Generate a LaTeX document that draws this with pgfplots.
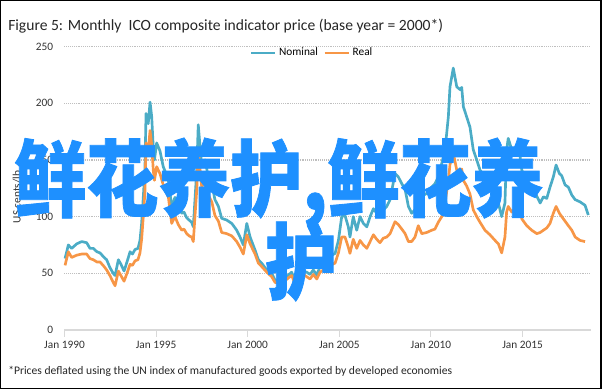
\documentclass[border=0pt]{standalone}
\usepackage{pgfplots}
\pgfplotsset{compat=1.18}
\usepackage{graphicx}
\usepackage{fontspec}
\setmainfont{Carlito}
\newfontfamily\cjk[FakeBold=1]{Noto Sans CJK SC}
\definecolor{nomc}{HTML}{4BACC6}
\definecolor{realc}{HTML}{F79646}
\definecolor{wm}{HTML}{1E90FF}
\definecolor{gridc}{HTML}{BFBFBF}
\definecolor{axc}{HTML}{D9D9D9}
\begin{document}
\begin{tikzpicture}[x=0.75pt,y=0.75pt]
\path[use as bounding box] (0,0) rectangle (604,390);
\begin{axis}[
  at={(48.375pt,45pt)}, anchor=south west,
  scale only axis, width=394.65pt, height=212.6pt,
  xmin=1990, xmax=2018.72, ymin=0, ymax=250,
  axis lines*=left,
  x axis line style={draw=axc, line width=0.8pt},
  y axis line style={draw=none},
  xtick={1990,1995,2000,2005,2010,2015},
  xticklabels={Jan 1990,Jan 1995,Jan 2000,Jan 2005,Jan 2010,Jan 2015},
  ytick={0,50,100,150,200,250},
  tick align=outside,
  major tick length=5pt,
  xtick style={draw=axc, line width=0.8pt},
  ytick style={draw=none},
  ymajorgrids,
  grid style={densely dotted, draw=gridc, line width=0.9pt},
  tick label style={font=\fontsize{8.5}{10}\selectfont, text=black!80},
  xticklabel style={anchor=base, yshift=-9pt},
  yticklabel style={anchor=east},
  /pgf/number format/assume math mode=true,
  legend style={draw=none, fill=none, at={(0.471,0.977)}, anchor=center,
    legend columns=2, font=\fontsize{8.5}{10}\selectfont,
    /tikz/every even column/.append style={column sep=2pt}},
  legend image code/.code={\draw[#1] (0pt,0pt) -- (18pt,0pt);},
  clip=false,
]
\addplot[nomc, line width=2pt, line join=round] coordinates {
(1990.03,63) (1990.21,75) (1990.39,72) (1990.67,76) (1990.94,78) (1991.21,77)
(1991.39,72) (1991.57,72) (1991.77,69) (1991.94,68) (1992.16,64) (1992.30,62)
(1992.48,55) (1992.66,50) (1992.76,48) (1992.94,62) (1993.08,58) (1993.25,52)
(1993.41,60) (1993.58,69) (1993.71,67) (1993.85,71) (1994.01,72) (1994.12,79)
(1994.21,94) (1994.30,117) (1994.39,141) (1994.45,191) (1994.57,182) (1994.67,201)
(1994.76,188) (1994.85,159) (1994.91,150) (1995.03,165) (1995.21,158) (1995.39,144)
(1995.54,138) (1995.67,132) (1995.85,109) (1996.03,117) (1996.21,110) (1996.40,103)
(1996.52,104) (1996.67,99) (1996.80,97) (1996.94,95) (1997.03,91) (1997.22,141)
(1997.30,181) (1997.49,144) (1997.67,150) (1997.85,135) (1998.04,129) (1998.21,115)
(1998.40,109) (1998.58,98.5) (1998.85,97) (1999.13,94) (1999.40,88) (1999.58,82)
(1999.76,75) (1999.95,94) (2000.13,82) (2000.40,70.5) (2000.58,62) (2000.76,59)
(2001.04,53) (2001.31,50) (2001.49,44) (2001.76,42.6) (2001.94,44) (2002.22,48.5)
(2002.40,51) (2002.58,43) (2002.86,53) (2003.04,52) (2003.22,51) (2003.40,49)
(2003.58,53) (2003.77,48.5) (2003.95,56) (2004.13,59) (2004.31,57) (2004.49,65)
(2004.77,67.6) (2004.95,79) (2005.13,100) (2005.31,101) (2005.49,91) (2005.58,82)
(2005.76,100) (2005.95,88) (2006.13,100) (2006.31,94) (2006.50,91) (2006.68,100)
(2006.86,107) (2007.04,103) (2007.22,100) (2007.40,106) (2007.59,109) (2007.77,115)
(2008.04,138) (2008.22,135) (2008.41,129) (2008.59,124) (2008.77,109) (2008.95,103)
(2009.13,106) (2009.31,115) (2009.50,118) (2009.77,120.5) (2010.04,126) (2010.22,129)
(2010.40,135) (2010.59,147) (2010.77,159) (2010.95,188) (2011.04,214.5) (2011.22,231)
(2011.41,214.5) (2011.59,212) (2011.68,214) (2011.77,197) (2011.95,188) (2012.13,179)
(2012.31,159) (2012.50,150) (2012.68,141) (2012.95,135) (2013.22,129) (2013.50,120.5)
(2013.68,112) (2013.86,100) (2014.04,112) (2014.13,159) (2014.22,169) (2014.41,159)
(2014.59,156) (2014.77,165) (2014.96,141) (2015.23,132) (2015.50,126) (2015.78,118)
(2015.96,112) (2016.14,117.5) (2016.32,116) (2016.50,126) (2016.68,135) (2016.83,145.5)
(2017.01,138) (2017.14,136) (2017.32,128) (2017.50,126) (2017.69,119) (2017.87,115)
(2018.14,113) (2018.41,110) (2018.59,101.4)
};
\addlegendentry{Nominal}
\addplot[realc, line width=2pt, line join=round] coordinates {
(1990.03,57) (1990.21,69) (1990.39,64) (1990.67,66) (1990.94,67) (1991.21,67)
(1991.39,63) (1991.57,62) (1991.77,60) (1991.94,60) (1992.16,56) (1992.30,53)
(1992.48,48) (1992.66,42) (1992.76,39) (1992.94,52) (1993.08,48) (1993.25,43)
(1993.41,50) (1993.58,58) (1993.71,57) (1993.85,61) (1994.01,62) (1994.12,68)
(1994.21,80) (1994.30,100) (1994.39,122) (1994.45,165) (1994.57,158) (1994.67,176)
(1994.76,163) (1994.85,140) (1994.91,132) (1995.03,144) (1995.21,138) (1995.39,128)
(1995.54,122) (1995.67,117) (1995.85,94) (1996.03,100) (1996.21,93) (1996.40,88)
(1996.52,89) (1996.67,85) (1996.80,83) (1996.94,82) (1997.03,78) (1997.22,124)
(1997.30,159) (1997.49,126) (1997.67,132) (1997.85,119) (1998.04,113) (1998.21,101)
(1998.40,96) (1998.58,86) (1998.85,85) (1999.13,83) (1999.40,78) (1999.58,73)
(1999.76,67) (1999.95,84) (2000.13,76) (2000.40,67) (2000.58,59) (2000.76,56)
(2001.04,51) (2001.31,47) (2001.49,42) (2001.76,41) (2001.94,42) (2002.22,46)
(2002.40,48) (2002.58,41) (2002.86,50) (2003.04,49) (2003.22,47) (2003.40,45)
(2003.58,49) (2003.77,45) (2003.95,51) (2004.13,53) (2004.31,51) (2004.49,57)
(2004.77,59) (2004.95,68) (2005.13,82) (2005.31,82) (2005.49,73) (2005.58,67.6)
(2005.76,80) (2005.95,72) (2006.13,79) (2006.31,75) (2006.50,72) (2006.68,78)
(2006.86,84) (2007.04,80) (2007.22,77) (2007.40,81) (2007.59,82) (2007.77,85)
(2008.04,95.5) (2008.22,93) (2008.41,89) (2008.59,85) (2008.77,78) (2008.95,78)
(2009.13,82) (2009.31,92) (2009.50,85) (2009.77,86) (2010.04,88) (2010.22,89)
(2010.40,95) (2010.59,100) (2010.77,112) (2010.95,132) (2011.04,146) (2011.22,156)
(2011.41,141) (2011.59,141) (2011.68,142) (2011.77,132) (2011.95,127) (2012.13,120)
(2012.31,106) (2012.50,100) (2012.68,95) (2012.95,88) (2013.22,84) (2013.50,79)
(2013.68,76) (2013.86,68) (2014.04,82) (2014.13,104) (2014.22,109) (2014.41,104)
(2014.59,107) (2014.77,112) (2014.96,98) (2015.23,92) (2015.50,88) (2015.78,85)
(2015.96,86) (2016.14,88) (2016.32,90) (2016.50,94) (2016.68,103) (2016.83,109)
(2017.01,103) (2017.14,100) (2017.32,96) (2017.50,92) (2017.69,88) (2017.87,82)
(2018.14,79) (2018.41,78)
};
\addlegendentry{Real}
\end{axis}
\draw[black, line width=1pt] (0.8,1.5) rectangle (601,389.2);
\node[anchor=base west, inner sep=0pt, font=\fontsize{11.7}{13}\selectfont, text=black!85] at (8,359) {Figure 5: Monthly\ \ ICO composite indicator price (base year = 2000*)};
\node[anchor=base west, inner sep=0pt, font=\fontsize{8.7}{10}\selectfont, text=black!85] at (8,16) {*Prices deflated using the UN index of manufactured goods exported by developed economies};
\node[rotate=90, inner sep=0pt, font=\fontsize{8.5}{10}\selectfont, text=black!80] at (17,193) {US cents/lb};
\node[anchor=base west, inner sep=0pt, font=\cjk\bfseries\fontsize{54}{60}\selectfont, text=wm] at (14,180) {\scalebox{1}[1.16]{鲜花养护,鲜花养}};
\node[anchor=base west, inner sep=0pt, font=\cjk\bfseries\fontsize{54}{60}\selectfont, text=wm] at (265,97) {\scalebox{1}[1.16]{护}};
\end{tikzpicture}
\end{document}
